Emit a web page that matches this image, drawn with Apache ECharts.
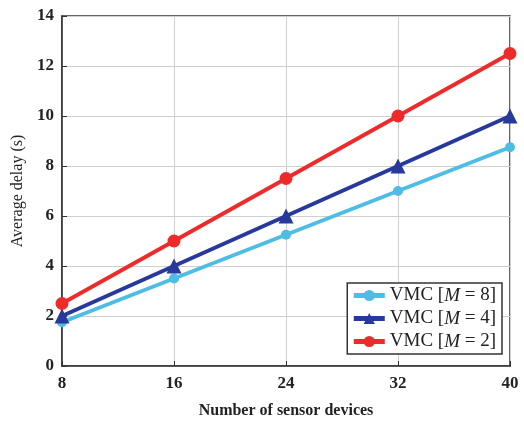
<!DOCTYPE html>
<html><head><meta charset="utf-8">
<script src="https://cdn.jsdelivr.net/npm/echarts@6/dist/echarts.min.js"></script>
<style>html,body{margin:0;padding:0;background:#fff}#c{width:524px;height:421px}</style>
</head><body><div id="c"></div>
<script>
const xValues = [8, 16, 24, 32, 40];
const m8 = [1.75, 3.5, 5.25, 7, 8.75];
const m4 = [2, 4, 6, 8, 10];
const m2 = [2.5, 5, 7.5, 10, 12.5];
const seriesNames = ['M8', 'M4', 'M2'];
const legendM = {M8: '8', M4: '4', M2: '2'};

const font = 'Liberation Serif, Times New Roman, serif';
const chart = echarts.init(document.getElementById('c'));
function pairs(v){ return xValues.map((x,i)=>[x, v[i]]); }
chart.setOption({
  animation: false,
  textStyle: {fontFamily: font},
  grid: {left: 62, right: 14, top: 16, bottom: 55, outerBoundsMode: 'none', containLabel: false,
         show: true, borderColor: '#333', borderWidth: 1.5, backgroundColor: 'transparent'},
  xAxis: {
    type: 'value', min: 8, max: 40, interval: 8,
    name: 'Number of sensor devices', nameLocation: 'middle', nameGap: 37,
    nameTextStyle: {fontFamily: font, fontSize: 16, fontWeight: 'bold', color: '#222'},
    axisLine: {lineStyle: {color: '#333', width: 1.5}},
    axisTick: {inside: true, length: 5, lineStyle: {color: '#333'}},
    axisLabel: {fontFamily: font, fontSize: 17, fontWeight: 'bold', color: '#222', margin: 9},
    splitLine: {show: true, lineStyle: {color: '#cfcfcf', width: 1}}
  },
  yAxis: {
    type: 'value', min: 0, max: 14, interval: 2,
    name: 'Average delay (s)', nameLocation: 'middle', nameGap: 35,
    nameTextStyle: {fontFamily: font, fontSize: 16, color: '#222'},
    axisLine: {lineStyle: {color: '#333', width: 1.5}},
    axisTick: {inside: true, length: 5, lineStyle: {color: '#333'}},
    axisLabel: {fontFamily: font, fontSize: 17, fontWeight: 'bold', color: '#222', margin: 8},
    splitLine: {show: true, lineStyle: {color: '#cfcfcf', width: 1}}
  },
  legend: {
    orient: 'vertical', right: 22, bottom: 67,
    backgroundColor: '#fff', borderColor: '#333', borderWidth: 1.5, padding: [3, 6, 3, 4],
    itemGap: 4, itemWidth: 31, itemHeight: 14,
    lineStyle: {width: 5},
    data: seriesNames,
    formatter: function(n){ return '{t|VMC [}{i|M}{t| = ' + legendM[n] + ']}'; },
    textStyle: {
      fontFamily: font, fontSize: 19, color: '#222',
      rich: {t: {fontFamily: font, fontSize: 19, color: '#222'}, i: {fontFamily: font, fontSize: 19, fontStyle: 'italic', color: '#222'}}
    }
  },
  series: [
    {name: 'M8', type: 'line', data: pairs(m8), symbol: 'circle', symbolSize: 10,
     lineStyle: {width: 4, color: '#4dbde6'}, itemStyle: {color: '#4dbde6'}, z: 3},
    {name: 'M4', type: 'line', data: pairs(m4), symbol: 'triangle', symbolSize: 15,
     lineStyle: {width: 4, color: '#27399a'}, itemStyle: {color: '#27399a'}, z: 4},
    {name: 'M2', type: 'line', data: pairs(m2), symbol: 'circle', symbolSize: 13,
     lineStyle: {width: 4, color: '#ee2a2a'}, itemStyle: {color: '#ee2a2a'}, z: 5}
  ]
});
</script></body></html>
